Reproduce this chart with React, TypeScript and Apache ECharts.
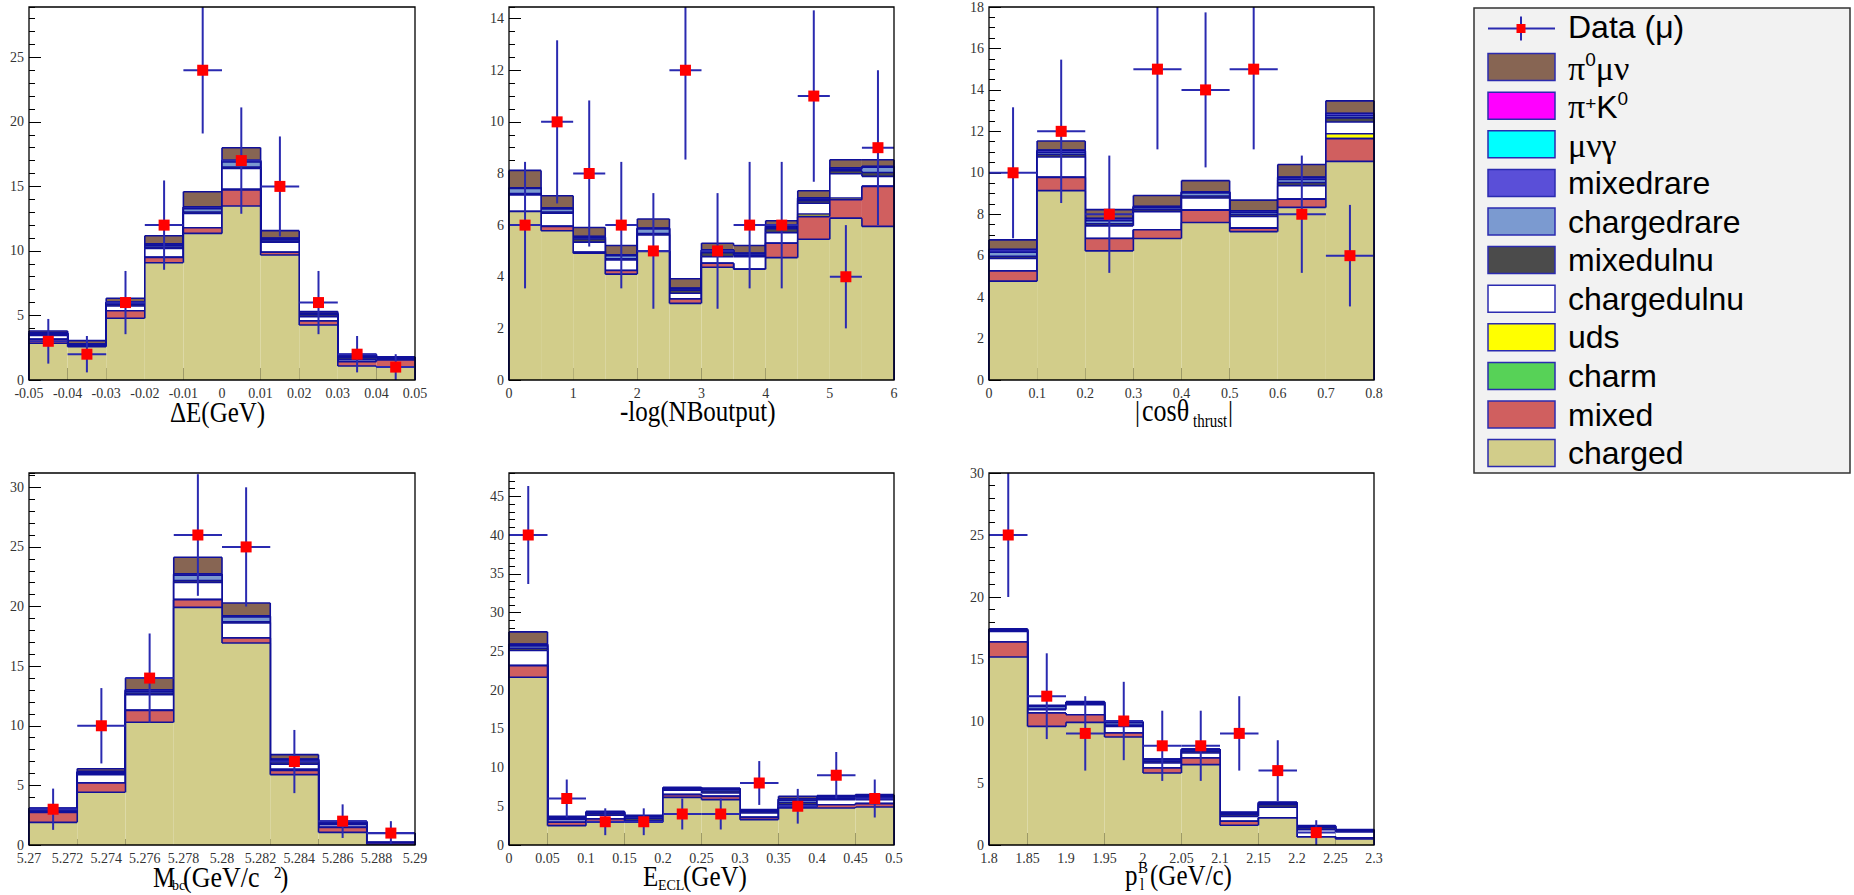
import React, { useEffect, useRef } from "react";
import * as echarts from "echarts";

// ---------- components (stack order bottom -> top) ----------
const COMPONENTS = ["charged", "mixed", "charm", "uds", "chargedulnu", "mixedulnu", "chargedrare", "mixedrare", "μνγ", "π⁺K⁰", "π⁰μν"];
const COLORS = ["#d2cd8a", "#d05f5f", "#57d257", "#ffff00", "#ffffff", "#4b4b4b", "#7b9ad0", "#5a4fd8", "#00ffff", "#ff00ff", "#876553"];

// ---------- panel 1 : ΔE ----------
const dE_bins = [-0.05, -0.04, -0.03, -0.02, -0.01, 0, 0.01, 0.02, 0.03, 0.04];
const dE_width = 0.01;
const dE_charged = [2.85, 2.58, 4.78, 9.09, 11.36, 13.48, 9.68, 4.26, 1.08, 1.0];
const dE_mixed = [0.3, 0.05, 0.59, 0.41, 0.44, 1.24, 0.22, 0.31, 0.34, 0.55];
const dE_charm = [0, 0, 0, 0, 0, 0, 0, 0, 0, 0];
const dE_uds = [0, 0, 0, 0, 0, 0.08, 0, 0, 0, 0];
const dE_chargedulnu = [0.3, 0.05, 0.36, 0.7, 1.1, 1.6, 0.77, 0.33, 0.18, 0.1];
const dE_mixedulnu = [0.1, 0.05, 0.15, 0.1, 0.12, 0.1, 0.1, 0.15, 0.15, 0.05];
const dE_chargedrare = [0.05, 0.05, 0.1, 0.15, 0.25, 0.4, 0.1, 0.05, 0.1, 0.05];
const dE_mixedrare = [0.05, 0.02, 0.05, 0.1, 0.13, 0.1, 0.1, 0.05, 0.05, 0];
const dE_munugamma = [0, 0, 0, 0, 0, 0, 0, 0, 0, 0];
const dE_pipK0 = [0, 0, 0, 0, 0, 0, 0, 0, 0, 0];
const dE_pi0munu = [0.15, 0.25, 0.3, 0.63, 1.19, 1.0, 0.6, 0.15, 0.1, 0.05];
const dE_data = [3, 2, 6, 12, 24, 17, 15, 6, 2, 1];
const dE_err = [1.73, 1.41, 2.45, 3.46, 4.9, 4.12, 3.87, 2.45, 1.41, 1.0];

// ---------- panel 2 : -log(NBoutput) ----------
const nb_bins = [0, 0.5, 1, 1.5, 2, 2.5, 3, 3.5, 4, 4.5, 5, 5.5];
const nb_width = 0.5;
const nb_charged = [6.53, 5.78, 4.91, 4.1, 4.98, 2.97, 4.37, 4.29, 4.74, 5.45, 6.27, 5.95];
const nb_mixed = [0, 0.17, 0.04, 0.14, 0.02, 0.17, 0.15, 0, 0.56, 0.88, 0.71, 1.55];
const nb_charm = [0, 0, 0, 0, 0, 0, 0, 0, 0, 0, 0, 0];
const nb_uds = [0, 0, 0, 0, 0, 0, 0, 0, 0, 0.1, 0.07, 0];
const nb_chargedulnu = [0.64, 0.51, 0.39, 0.41, 0.62, 0.22, 0.26, 0.49, 0.41, 0.42, 0.94, 0.39];
const nb_mixedulnu = [0.05, 0.05, 0.12, 0.05, 0.05, 0.12, 0.15, 0.05, 0.15, 0.1, 0.12, 0.15];
const nb_chargedrare = [0.2, 0.12, 0.05, 0.12, 0.18, 0.05, 0.05, 0.05, 0.05, 0.05, 0.05, 0.2];
const nb_mixedrare = [0.03, 0.03, 0.05, 0.03, 0.03, 0.02, 0.06, 0.03, 0.05, 0.05, 0.05, 0.03];
const nb_munugamma = [0, 0, 0, 0, 0, 0, 0, 0, 0, 0, 0, 0];
const nb_pipK0 = [0, 0, 0, 0, 0, 0, 0, 0, 0, 0, 0, 0];
const nb_pi0munu = [0.67, 0.48, 0.35, 0.36, 0.36, 0.37, 0.26, 0.3, 0.21, 0.28, 0.32, 0.26];
const nb_data = [6, 10, 8, 6, 5, 12, 5, 6, 6, 11, 4, 9];
const nb_err = [2.45, 3.16, 2.83, 2.45, 2.24, 3.46, 2.24, 2.45, 2.45, 3.32, 2.0, 3.0];

// ---------- panel 3 : |cos θ_thrust| ----------
const th_bins = [0, 0.1, 0.2, 0.3, 0.4, 0.5, 0.6, 0.7];
const th_width = 0.1;
const th_charged = [4.77, 9.14, 6.23, 6.83, 7.6, 7.16, 8.33, 10.55];
const th_mixed = [0.49, 0.64, 0.6, 0.42, 0.6, 0.17, 0.4, 1.1];
const th_charm = [0, 0, 0, 0, 0, 0, 0, 0];
const th_uds = [0, 0, 0, 0, 0, 0, 0, 0.23];
const th_chargedulnu = [0.61, 0.98, 0.61, 0.87, 0.58, 0.56, 0.65, 0.57];
const th_mixedulnu = [0.1, 0.12, 0.1, 0.1, 0.1, 0.1, 0.15, 0.2];
const th_chargedrare = [0.2, 0.1, 0.15, 0.1, 0.15, 0.1, 0.15, 0.1];
const th_mixedrare = [0.12, 0.1, 0.1, 0.05, 0.05, 0.08, 0.1, 0.11];
const th_munugamma = [0, 0, 0, 0, 0, 0, 0, 0];
const th_pipK0 = [0, 0, 0, 0, 0, 0, 0, 0];
const th_pi0munu = [0.47, 0.45, 0.43, 0.53, 0.54, 0.51, 0.62, 0.61];
const th_data = [10, 12, 8, 15, 14, 15, 8, 6];
const th_err = [3.16, 3.46, 2.83, 3.87, 3.74, 3.87, 2.83, 2.45];

// ---------- panel 4 : Mbc ----------
const mbc_bins = [5.27, 5.2725, 5.275, 5.2775, 5.28, 5.2825, 5.285, 5.2875];
const mbc_width = 0.0025;
const mbc_charged = [1.9, 4.42, 10.29, 19.93, 16.94, 5.9, 1.06, 0.08];
const mbc_mixed = [0.84, 0.78, 1.0, 0.65, 0.42, 0.36, 0.42, 0.14];
const mbc_charm = [0, 0, 0, 0, 0, 0, 0, 0];
const mbc_uds = [0, 0, 0, 0, 0, 0.1, 0, 0];
const mbc_chargedulnu = [0.1, 0.7, 1.31, 1.45, 1.26, 0.42, 0.22, 0.75];
const mbc_mixedulnu = [0.1, 0.1, 0.15, 0.15, 0.1, 0.2, 0.1, 0.03];
const mbc_chargedrare = [0.06, 0.1, 0.15, 0.45, 0.4, 0.1, 0.1, 0];
const mbc_mixedrare = [0.05, 0.05, 0.12, 0.1, 0.1, 0.1, 0.05, 0];
const mbc_munugamma = [0, 0, 0, 0, 0, 0, 0, 0];
const mbc_pipK0 = [0, 0, 0, 0, 0, 0, 0, 0];
const mbc_pi0munu = [0.05, 0.25, 0.98, 1.4, 1.08, 0.4, 0.05, 0];
const mbc_data = [3, 10, 14, 26, 25, 7, 2, 1];
const mbc_err = [1.73, 3.16, 3.74, 5.1, 5.0, 2.65, 1.41, 1.0];

// ---------- panel 5 : E_ECL ----------
const ecl_bins = [0, 0.05, 0.1, 0.15, 0.2, 0.25, 0.3, 0.35, 0.4, 0.45];
const ecl_width = 0.05;
const ecl_charged = [21.64, 2.5, 2.93, 2.93, 6.15, 5.85, 3.27, 4.78, 4.78, 4.9];
const ecl_mixed = [1.51, 0.43, 0.43, 0.1, 0.35, 0.43, 0.3, 0.1, 0.42, 0.44];
const ecl_charm = [0, 0, 0, 0, 0, 0, 0, 0, 0, 0];
const ecl_uds = [0, 0, 0, 0, 0, 0, 0, 0, 0, 0];
const ecl_chargedulnu = [1.94, 0.34, 0.47, 0.1, 0.56, 0.43, 0.56, 0.3, 0.65, 0.51];
const ecl_mixedulnu = [0.3, 0.15, 0.2, 0.3, 0.15, 0.25, 0.2, 0.3, 0.2, 0.25];
const ecl_chargedrare = [0.3, 0.1, 0.1, 0.2, 0.1, 0.2, 0.1, 0.3, 0.15, 0.2];
const ecl_mixedrare = [0.2, 0.08, 0.12, 0.1, 0.08, 0.1, 0.08, 0.15, 0.1, 0.1];
const ecl_munugamma = [0, 0, 0, 0, 0, 0, 0, 0, 0, 0];
const ecl_pipK0 = [0, 0, 0, 0, 0, 0, 0, 0, 0, 0];
const ecl_pi0munu = [1.61, 0.1, 0.1, 0.1, 0.05, 0.1, 0.05, 0.35, 0.07, 0.1];
const ecl_data = [40, 6, 3, 3, 4, 4, 8, 5, 9, 6];
const ecl_err = [6.32, 2.45, 1.73, 1.73, 2.0, 2.0, 2.83, 2.24, 3.0, 2.45];

// ---------- panel 6 : p_l^B ----------
const pl_bins = [1.8, 1.85, 1.9, 1.95, 2.0, 2.05, 2.1, 2.15, 2.2, 2.25];
const pl_width = 0.05;
const pl_charged = [15.16, 9.57, 9.89, 8.71, 5.81, 6.48, 1.59, 2.18, 0.65, 0.48];
const pl_mixed = [1.21, 1.08, 0.62, 0.32, 0.4, 0.54, 0.32, 0.02, 0.02, 0.08];
const pl_charm = [0, 0, 0, 0, 0, 0, 0, 0, 0, 0];
const pl_uds = [0, 0, 0, 0, 0, 0, 0, 0, 0, 0];
const pl_chargedulnu = [0.86, 0.27, 0.81, 0.54, 0.4, 0.4, 0.4, 0.84, 0.57, 0.49];
const pl_mixedulnu = [0.05, 0.05, 0.08, 0.1, 0.15, 0.15, 0.15, 0.2, 0.15, 0.1];
const pl_chargedrare = [0.05, 0.2, 0.08, 0.2, 0.1, 0.1, 0.1, 0.1, 0.1, 0.05];
const pl_mixedrare = [0.05, 0.05, 0.05, 0.05, 0.05, 0.05, 0.05, 0.08, 0.05, 0.03];
const pl_munugamma = [0, 0, 0, 0, 0, 0, 0, 0, 0, 0];
const pl_pipK0 = [0, 0, 0, 0, 0, 0, 0, 0, 0, 0];
const pl_pi0munu = [0.05, 0.05, 0.03, 0.05, 0.03, 0.02, 0.02, 0.02, 0.02, 0.01];
const pl_data = [25, 12, 9, 10, 8, 8, 9, 6, 1, null];
const pl_err = [5.0, 3.46, 3.0, 3.16, 2.83, 2.83, 3.0, 2.45, 1.0, null];

// ---------- styling ----------
const OUTLINE = "#10109a";
const ERR_COLOR = "#2a2ab0";
const SERIF = "Liberation Serif";
const SANS = "Liberation Sans";

type Panel = {
  grid: { left: number; top: number; width: number; height: number };
  xMin: number; xMax: number; xInt: number; xMinorSplit: number;
  yMax: number; yInt: number; yMinorInt: number;
  bins: number[]; width: number; comps: number[][];
  data: (number | null)[]; err: (number | null)[];
};

const panels: Panel[] = [
  {
    grid: { left: 29, top: 7, width: 386, height: 373 },
    xMin: -0.05, xMax: 0.05, xInt: 0.01, xMinorSplit: 5,
    yMax: 28.9, yInt: 5, yMinorInt: 1,
    bins: dE_bins, width: dE_width,
    comps: [dE_charged, dE_mixed, dE_charm, dE_uds, dE_chargedulnu, dE_mixedulnu, dE_chargedrare, dE_mixedrare, dE_munugamma, dE_pipK0, dE_pi0munu],
    data: dE_data, err: dE_err,
  },
  {
    grid: { left: 509, top: 7, width: 385, height: 373 },
    xMin: 0, xMax: 6, xInt: 1, xMinorSplit: 5,
    yMax: 14.45, yInt: 2, yMinorInt: 0.5,
    bins: nb_bins, width: nb_width,
    comps: [nb_charged, nb_mixed, nb_charm, nb_uds, nb_chargedulnu, nb_mixedulnu, nb_chargedrare, nb_mixedrare, nb_munugamma, nb_pipK0, nb_pi0munu],
    data: nb_data, err: nb_err,
  },
  {
    grid: { left: 989, top: 7, width: 385, height: 373 },
    xMin: 0, xMax: 0.8, xInt: 0.1, xMinorSplit: 5,
    yMax: 18, yInt: 2, yMinorInt: 0.5,
    bins: th_bins, width: th_width,
    comps: [th_charged, th_mixed, th_charm, th_uds, th_chargedulnu, th_mixedulnu, th_chargedrare, th_mixedrare, th_munugamma, th_pipK0, th_pi0munu],
    data: th_data, err: th_err,
  },
  {
    grid: { left: 29, top: 473, width: 386, height: 372 },
    xMin: 5.27, xMax: 5.29, xInt: 0.002, xMinorSplit: 4,
    yMax: 31.2, yInt: 5, yMinorInt: 1,
    bins: mbc_bins, width: mbc_width,
    comps: [mbc_charged, mbc_mixed, mbc_charm, mbc_uds, mbc_chargedulnu, mbc_mixedulnu, mbc_chargedrare, mbc_mixedrare, mbc_munugamma, mbc_pipK0, mbc_pi0munu],
    data: mbc_data, err: mbc_err,
  },
  {
    grid: { left: 509, top: 473, width: 385, height: 372 },
    xMin: 0, xMax: 0.5, xInt: 0.05, xMinorSplit: 5,
    yMax: 48, yInt: 5, yMinorInt: 1,
    bins: ecl_bins, width: ecl_width,
    comps: [ecl_charged, ecl_mixed, ecl_charm, ecl_uds, ecl_chargedulnu, ecl_mixedulnu, ecl_chargedrare, ecl_mixedrare, ecl_munugamma, ecl_pipK0, ecl_pi0munu],
    data: ecl_data, err: ecl_err,
  },
  {
    grid: { left: 989, top: 473, width: 385, height: 372 },
    xMin: 1.8, xMax: 2.3, xInt: 0.05, xMinorSplit: 5,
    yMax: 30, yInt: 5, yMinorInt: 1,
    bins: pl_bins, width: pl_width,
    comps: [pl_charged, pl_mixed, pl_charm, pl_uds, pl_chargedulnu, pl_mixedulnu, pl_chargedrare, pl_mixedrare, pl_munugamma, pl_pipK0, pl_pi0munu],
    data: pl_data, err: pl_err,
  },
];

function bandRenderer(color: string) {
  return (params: any, api: any) => {
    const x0 = api.value(0), x1 = api.value(1), lo = api.value(2), hi = api.value(3), prev = api.value(4), last = api.value(5);
    const cs = params.coordSys;
    const clampY = (y: number) => Math.max(cs.y, Math.min(cs.y + cs.height, y));
    const pLT = api.coord([x0, hi]);
    const pRB = api.coord([x1, lo]);
    const yTop = clampY(pLT[1]);
    const yBot = clampY(pRB[1]);
    const yPrev = clampY(api.coord([x0, prev])[1]);
    const ls = { stroke: OUTLINE, lineWidth: 1.6 };
    const children: any[] = [];
    if (yBot - yTop > 0.01) {
      children.push({ type: "rect", shape: { x: pLT[0], y: yTop, width: pRB[0] - pLT[0], height: yBot - yTop }, style: { fill: color } });
    }
    children.push({ type: "line", shape: { x1: pLT[0], y1: yTop, x2: pRB[0], y2: yTop }, style: ls });
    children.push({ type: "line", shape: { x1: pLT[0], y1: yPrev, x2: pLT[0], y2: yTop }, style: ls });
    if (last) {
      const y0 = clampY(api.coord([x1, 0])[1]);
      children.push({ type: "line", shape: { x1: pRB[0], y1: yTop, x2: pRB[0], y2: y0 }, style: ls });
    }
    return { type: "group", children };
  };
}

const dataRenderer = (params: any, api: any) => {
  const xc = api.value(0), v = api.value(1), e = api.value(2), hw = api.value(3);
  const cs = params.coordSys;
  const c = api.coord([xc, v]);
  const l = api.coord([xc - hw, v]);
  const r = api.coord([xc + hw, v]);
  const t = Math.max(cs.y, api.coord([xc, v + e])[1]);
  const b = Math.min(cs.y + cs.height, api.coord([xc, v - e])[1]);
  const lx = Math.max(cs.x, l[0]);
  const rx = Math.min(cs.x + cs.width, r[0]);
  const ls = { stroke: ERR_COLOR, lineWidth: 2 };
  return {
    type: "group",
    children: [
      { type: "line", shape: { x1: lx, y1: c[1], x2: rx, y2: c[1] }, style: ls },
      { type: "line", shape: { x1: c[0], y1: t, x2: c[0], y2: b }, style: ls },
      { type: "rect", shape: { x: c[0] - 5.5, y: c[1] - 5.5, width: 11, height: 11 }, style: { fill: "#ff0000" } },
    ],
  };
};

function buildOption() {
  const grids: any[] = [];
  const xAxes: any[] = [];
  const yAxes: any[] = [];
  const series: any[] = [];
  const graphics: any[] = [];
  const tickLine = { color: "#000", width: 1 };

  panels.forEach((p, pi) => {
    grids.push({ ...p.grid, show: false });
    xAxes.push({
      type: "value", gridIndex: pi, min: p.xMin, max: p.xMax, interval: p.xInt, position: "bottom",
      axisLine: { show: false, onZero: false },
      axisTick: { show: true, inside: true, length: 12, lineStyle: tickLine },
      minorTick: { show: true, splitNumber: p.xMinorSplit, length: 6, lineStyle: tickLine },
      splitLine: { show: false },
      axisLabel: { fontFamily: SERIF, fontSize: 14, color: "#333", margin: 6 },
    });
    const maxIsTick = Math.abs(p.yMax / p.yInt - Math.round(p.yMax / p.yInt)) < 1e-6;
    yAxes.push({
      type: "value", gridIndex: pi, min: 0, max: p.yMax, interval: p.yInt, position: "left",
      axisLine: { show: false, onZero: false },
      axisTick: { show: true, inside: true, length: 12, lineStyle: tickLine },
      splitLine: { show: false },
      axisLabel: { fontFamily: SERIF, fontSize: 14, color: "#333", margin: 5, showMaxLabel: maxIsTick },
    });
    yAxes.push({
      type: "value", gridIndex: pi, min: 0, max: p.yMax, interval: p.yMinorInt, position: "left", offset: 0,
      axisLine: { show: false, onZero: false },
      axisTick: { show: true, inside: true, length: 6, lineStyle: tickLine },
      splitLine: { show: false },
      axisLabel: { show: false },
    });

    const n = p.bins.length;
    let run = new Array(n).fill(0);
    const cum: { lo: number[]; hi: number[] }[] = [];
    p.comps.forEach((arr) => {
      const lo = run.slice();
      run = run.map((v, i) => v + arr[i]);
      cum.push({ lo, hi: run.slice() });
    });
    for (let k = COMPONENTS.length - 1; k >= 0; k--) {
      const { lo, hi } = cum[k];
      const data = p.bins.map((b, i) => [b, b + p.width, lo[i], hi[i], i === 0 ? 0 : hi[i - 1], i === n - 1 ? 1 : 0]);
      series.push({
        type: "custom", name: COMPONENTS[k], xAxisIndex: pi, yAxisIndex: pi * 2,
        renderItem: bandRenderer(COLORS[k]), data, z: 2, silent: true,
        encode: { x: [0, 1], y: [2, 3] },
      });
    }
    const dat: number[][] = [];
    p.data.forEach((v, i) => {
      if (v != null) dat.push([p.bins[i] + p.width / 2, v, p.err[i] as number, p.width / 2]);
    });
    series.push({
      type: "custom", name: "Data (μ)", xAxisIndex: pi, yAxisIndex: pi * 2,
      renderItem: dataRenderer, data: dat, z: 4, silent: true,
      encode: { x: 0, y: 1 },
    });

    graphics.push({
      type: "rect", z: 100, silent: true,
      shape: { x: p.grid.left, y: p.grid.top, width: p.grid.width, height: p.grid.height },
      style: { fill: "none", stroke: "#000", lineWidth: 1.3 },
    });
  });

  // ---------- axis titles ----------
  const T = (text: string, x: number, y: number, fs: number, sy = 1.15) => ({
    type: "text", x, y, scaleY: sy, z: 100, silent: true,
    style: { text, fontFamily: SERIF, fontSize: fs, fill: "#000", align: "left", verticalAlign: "middle" },
  });
  graphics.push(T("ΔE(GeV)", 170, 412, 25, 1.2));
  graphics.push(T("-log(NBoutput)", 620, 411, 25, 1.2));
  graphics.push(T("|", 1135, 410.5, 25, 1.2));
  graphics.push(T("cosθ", 1142, 410.5, 26, 1.2));
  graphics.push(T("thrust", 1193, 421, 15, 1.2));
  graphics.push(T("|", 1228, 410.5, 25, 1.2));

  graphics.push(T("M", 153, 877, 25));
  graphics.push(T("bc", 172, 885, 14, 1.1));
  graphics.push(T("(GeV/c", 183, 877, 26));
  graphics.push(T("2", 274, 872, 15));
  graphics.push(T(")", 280, 877, 25));

  graphics.push(T("E", 643, 876, 25));
  graphics.push(T("ECL", 658, 884.5, 14, 1.1));
  graphics.push(T("(GeV)", 683, 876, 25));

  graphics.push(T("p", 1125, 875.5, 25));
  graphics.push(T("B", 1138, 867, 15));
  graphics.push(T("l", 1140, 884.5, 15, 1.1));
  graphics.push(T("(GeV/c)", 1150, 875.5, 25));

  // ---------- legend ----------
  const LX = 1474, LY = 8, LW = 376, LH = 465;
  graphics.push({
    type: "rect", z: 100, silent: true,
    shape: { x: LX, y: LY, width: LW, height: LH },
    style: { fill: "#f2f2f2", stroke: "#333", lineWidth: 1.5 },
  });
  const rowY = (i: number) => 28.5 + 38.6 * i;
  // Data entry
  graphics.push({ type: "line", z: 101, silent: true, shape: { x1: 1488, y1: rowY(0), x2: 1555, y2: rowY(0) }, style: { stroke: ERR_COLOR, lineWidth: 2 } });
  graphics.push({ type: "line", z: 101, silent: true, shape: { x1: 1521, y1: rowY(0) - 12, x2: 1521, y2: rowY(0) + 12 }, style: { stroke: ERR_COLOR, lineWidth: 2 } });
  graphics.push({ type: "rect", z: 102, silent: true, shape: { x: 1516.5, y: rowY(0) - 4.5, width: 9, height: 9 }, style: { fill: "#ff0000" } });
  graphics.push({
    type: "text", z: 101, silent: true, x: 1568, y: rowY(0) - 2,
    style: { text: "Data (μ)", fontFamily: SANS, fontSize: 32, fill: "#000", align: "left", verticalAlign: "middle" },
  });
  const legendOrder = [10, 9, 8, 7, 6, 5, 4, 3, 2, 1, 0];
  const rich = {
    g: { fontFamily: SERIF, fontSize: 34, lineHeight: 36, fill: "#000" },
    k: { fontFamily: SANS, fontSize: 32, lineHeight: 36, fill: "#000" },
    s: { fontFamily: SANS, fontSize: 19, lineHeight: 19, padding: [0, 0, 17, 0], fill: "#000" },
    p: { fontFamily: SANS, fontSize: 19, lineHeight: 19, padding: [0, 0, 6, 0], fill: "#000" },
  };
  const richLabels: Record<string, string> = {
    "π⁰μν": "{g|π}{s|0}{g|μν}",
    "π⁺K⁰": "{g|π}{p|+}{k|K}{s|0}",
    "μνγ": "{g|μνγ}",
  };
  legendOrder.forEach((k, j) => {
    const y = rowY(j + 1);
    graphics.push({
      type: "rect", z: 101, silent: true,
      shape: { x: 1488, y: y - 13.5, width: 67, height: 27 },
      style: { fill: COLORS[k], stroke: "#2b2bb0", lineWidth: 1.5 },
    });
    const name = COMPONENTS[k];
    if (richLabels[name]) {
      graphics.push({
        type: "text", z: 101, silent: true, x: 1568, y: y + 1,
        style: { text: richLabels[name], rich, align: "left", verticalAlign: "middle" },
      });
    } else {
      graphics.push({
        type: "text", z: 101, silent: true, x: 1568, y,
        style: { text: name, fontFamily: SANS, fontSize: 32, fill: "#000", align: "left", verticalAlign: "middle" },
      });
    }
  });

  return {
    animation: false,
    backgroundColor: "#ffffff",
    grid: grids,
    xAxis: xAxes,
    yAxis: yAxes,
    series,
    graphic: { elements: graphics },
  };
}

export default function App() {
  const ref = useRef<HTMLDivElement>(null);
  useEffect(() => {
    if (!ref.current) return;
    const chart = echarts.init(ref.current, undefined, { renderer: "svg" });
    chart.setOption(buildOption() as any);
    return () => chart.dispose();
  }, []);
  return (
    <div
      ref={ref}
      style={{ position: "absolute", left: 0, top: 0, width: 1854, height: 895, background: "#fff" }}
    />
  );
}
